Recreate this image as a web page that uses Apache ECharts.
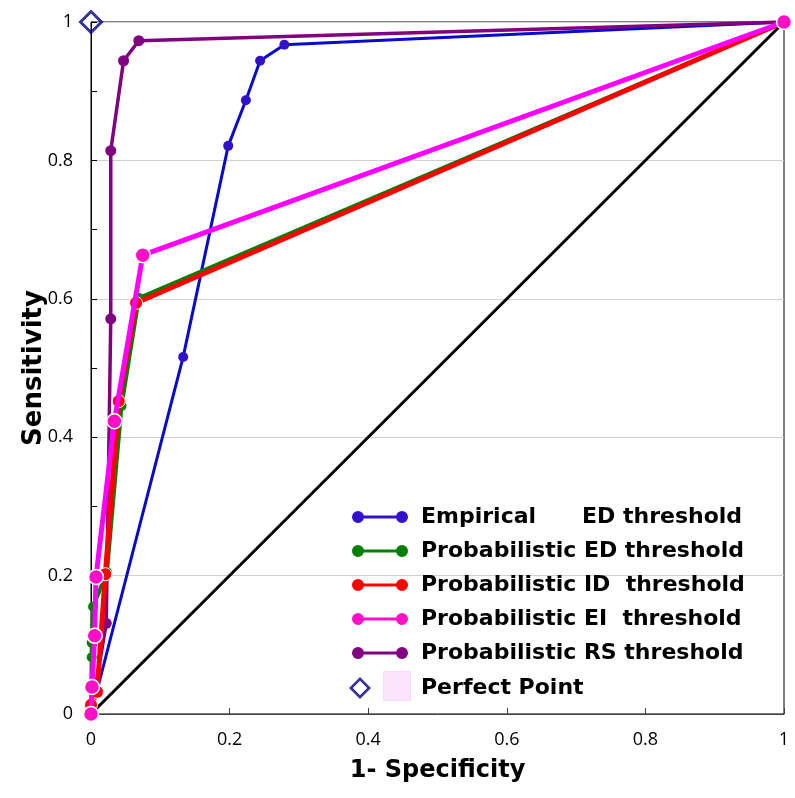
<!DOCTYPE html>
<html>
<head>
<meta charset="utf-8">
<script src="https://cdn.jsdelivr.net/npm/echarts@6/dist/echarts.min.js"></script>
<style>html,body{margin:0;padding:0;background:#fff;}#c{width:795px;height:798px;}</style>
</head>
<body>
<div id="c"></div>
<script>
// ---- data ----
const seriesNames = [
  'Empirical      ED threshold',
  'Probabilistic ED threshold',
  'Probabilistic ID  threshold',
  'Probabilistic EI  threshold',
  'Probabilistic RS threshold'
];
const perfectName = 'Perfect Point';

const empiricalX = [0, 0.133, 0.198, 0.2235, 0.244, 0.279, 1];
const empiricalY = [0, 0.516, 0.821, 0.887, 0.944, 0.967, 1];

const probEDX = [0, 0.001, 0.001, 0.003, 0.023, 0.044, 0.069, 1];
const probEDY = [0, 0.082, 0.103, 0.155, 0.205, 0.445, 0.601, 1];

const probIDX = [0, 0.0, 0.0087, 0.0207, 0.040, 0.065, 1];
const probIDY = [0, 0.013, 0.032, 0.202, 0.452, 0.594, 1];

const probEIX = [0, 0.0014, 0.0053, 0.0072, 0.0337, 0.0747, 1];
const probEIY = [0, 0.039, 0.113, 0.198, 0.423, 0.663, 1];

const probRSX = [0, 0.022, 0.0285, 0.0285, 0.047, 0.069, 1];
const probRSY = [0, 0.131, 0.571, 0.814, 0.944, 0.973, 1];

const diagonalX = [0, 1];
const diagonalY = [0, 1];

const perfectX = [0];
const perfectY = [1];

const pairs = (xs, ys) => xs.map((x, i) => [x, ys[i]]);

const lineIcon = 'path://M6 0A6 6 0 1 1 6 12A6 6 0 1 1 6 0ZM50 0A6 6 0 1 1 50 12A6 6 0 1 1 50 0ZM6 4.4L50 4.4L50 7.6L6 7.6Z';
const diamondIcon = 'path://M12 0L24 12L12 24L0 12ZM12 4.2L4.2 12L12 19.8L19.8 12Z';

const chart = echarts.init(document.getElementById('c'), null, {renderer: 'canvas'});

const legendFont = {fontFamily: 'DejaVu Sans', fontWeight: 'bold', fontSize: 22, color: '#000', lineHeight: 22, padding: [0, 0, 0, 8]};

chart.setOption({
  animation: false,
  backgroundColor: '#fff',
  grid: {left: 91, right: 11, top: 22, bottom: 84, show: true, borderColor: '#000', borderWidth: 1, containLabel: false},
  xAxis: {
    type: 'value', min: 0, max: 1, interval: 0.2,
    name: '1- Specificity', nameLocation: 'middle', nameGap: 45, nameMoveOverlap: false,
    nameTextStyle: {fontFamily: 'DejaVu Sans', fontWeight: 'bold', fontSize: 24, color: '#000'},
    axisLine: {show: true, lineStyle: {color: '#404040', width: 1}},
    axisTick: {show: true, inside: true, length: 6, lineStyle: {color: '#404040'}},
    axisLabel: {margin: 17, fontFamily: 'Open Sans', fontSize: 18, color: '#000'},
    splitLine: {show: false}
  },
  yAxis: {
    type: 'value', min: 0, max: 1, interval: 0.2,
    name: 'Sensitivity', nameLocation: 'middle', nameGap: 44, nameRotate: 90, nameMoveOverlap: false,
    nameTextStyle: {fontFamily: 'DejaVu Sans', fontWeight: 'bold', fontSize: 26, color: '#000'},
    axisLine: {show: true, lineStyle: {color: '#000', width: 1}},
    axisTick: {show: true, inside: true, length: 6, lineStyle: {color: '#000'}},
    minorTick: {show: true, splitNumber: 2, length: 6, lineStyle: {color: '#000'}},
    axisLabel: {margin: 18, fontFamily: 'Open Sans', fontSize: 18, color: '#000'},
    splitLine: {show: true, lineStyle: {color: '#d0d0d0', width: 1}}
  },
  legend: [{
    orient: 'vertical', left: 352, top: 506, padding: 0,
    itemWidth: 56, itemHeight: 12, itemGap: 12,
    selectedMode: false,
    itemStyle: {borderWidth: 0},
    textStyle: legendFont,
    data: seriesNames.map(n => ({name: n, icon: lineIcon}))
  }, {
    orient: 'vertical', left: 349, top: 677, padding: 0,
    itemWidth: 22, itemHeight: 22, itemGap: 0,
    selectedMode: false,
    itemStyle: {borderWidth: 0},
    textStyle: Object.assign({}, legendFont, {padding: [0, 0, 0, 45]}),
    data: [{name: perfectName, icon: diamondIcon, itemStyle: {color: '#000080'}}]
  }],
  graphic: [{
    type: 'rect', left: 383, top: 671, shape: {width: 27, height: 29},
    style: {fill: '#FCE4FC', stroke: '#F6DAF6', lineWidth: 1}, silent: true
  }],
  series: [
    {
      name: 'diag', type: 'line', data: pairs(diagonalX, diagonalY), symbol: 'none',
      lineStyle: {color: '#000', width: 3}, z: 1, silent: true
    },
    {
      name: seriesNames[0], type: 'line', data: pairs(empiricalX, empiricalY),
      symbol: 'circle', symbolSize: 10, clip: false,
      lineStyle: {color: '#0A0ACD', width: 3},
      itemStyle: {color: '#3311CC'}, z: 2
    },
    {
      name: seriesNames[4], type: 'line', data: pairs(probRSX, probRSY),
      symbol: 'circle', symbolSize: 11, clip: false,
      lineStyle: {color: '#800080', width: 3.5},
      itemStyle: {color: '#800080'}, z: 3
    },
    {
      name: seriesNames[1], type: 'line', data: pairs(probEDX, probEDY),
      symbol: 'circle', symbolSize: 10, clip: false,
      lineStyle: {color: '#008000', width: 4},
      itemStyle: {color: '#008000'}, z: 4
    },
    {
      name: seriesNames[2], type: 'line', data: pairs(probIDX, probIDY),
      symbol: 'circle', symbolSize: 13, clip: false,
      lineStyle: {color: '#FF0000', width: 5},
      itemStyle: {color: '#FF0000', borderColor: '#fff', borderWidth: 1}, z: 5
    },
    {
      name: seriesNames[3], type: 'line', data: pairs(probEIX, probEIY),
      symbol: 'circle', symbolSize: 15, clip: false,
      lineStyle: {color: '#FF00FF', width: 5},
      itemStyle: {color: '#FF10C8', borderColor: '#fff', borderWidth: 1.5}, z: 6
    },
    {
      name: perfectName, type: 'scatter', data: pairs(perfectX, perfectY),
      symbol: 'diamond', symbolSize: 21, clip: false,
      itemStyle: {color: 'rgba(0,0,0,0)', borderColor: '#000080', borderWidth: 3}, z: 10
    }
  ]
});
</script>
</body>
</html>
